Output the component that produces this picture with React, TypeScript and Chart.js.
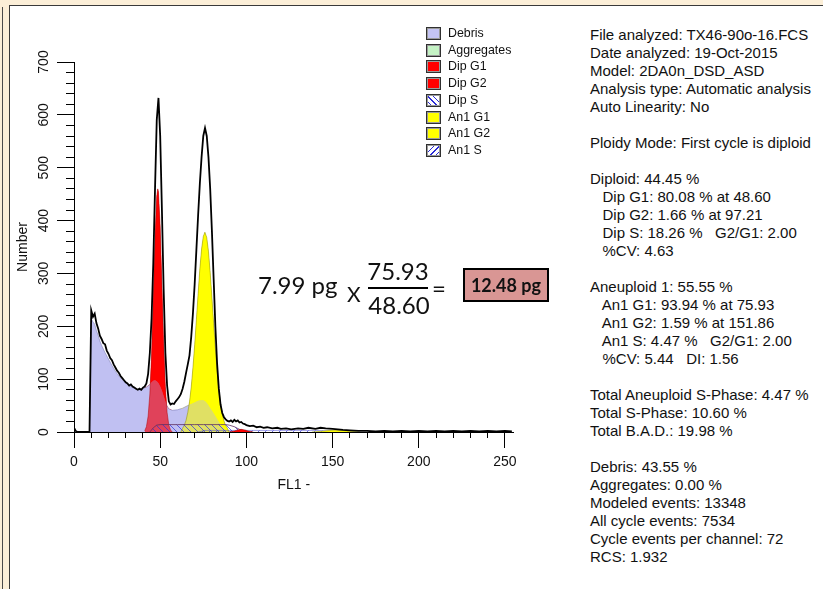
import React, { useEffect, useRef } from 'react';
import { Chart, registerables } from 'chart.js';
Chart.register(...registerables);

// ---------- data (channel / count) ----------
const rawChannels = [0, 1, 2, 9, 10, 11, 12, 13, 14, 15, 16, 17, 18, 19, 20, 21, 22, 23, 24, 25, 26, 27, 28, 29, 30, 31, 32, 33, 34, 35, 36, 37, 38, 39, 40, 41, 42, 43, 44, 45, 46, 47, 48, 49, 50, 51, 52, 53, 54, 55, 56, 57, 58, 59, 60, 61, 62, 63, 64, 65, 66, 67, 68, 69, 70, 71, 72, 73, 74, 75, 76, 77, 78, 79, 80, 81, 82, 83, 84, 85, 86, 87, 88, 89, 90, 91, 92, 93, 94, 95, 96, 97, 98, 99, 100, 102, 104, 106, 108, 110, 112, 115, 118, 120, 123, 126, 130, 133, 136, 140, 143, 146, 150, 153, 156, 160, 165, 170, 175, 180, 185, 190, 195, 200, 205, 210, 215, 220, 225, 230, 235, 240, 245, 250, 254];
const rawCounts = [8, 2, 0, 0, 230, 218, 224, 206, 196, 182, 176, 168, 166, 154, 148, 140, 136, 128, 122, 116, 112, 106, 102, 98, 94, 92, 88, 90, 86, 84, 82, 80, 82, 80, 84, 86, 92, 110, 150, 215, 320, 460, 590, 632, 560, 420, 270, 150, 88, 58, 52, 54, 53, 58, 62, 66, 72, 82, 95, 112, 128, 145, 180, 225, 280, 345, 410, 470, 520, 560, 575, 560, 520, 460, 380, 290, 200, 130, 82, 52, 36, 28, 24, 21, 20, 22, 19, 23, 20, 22, 18, 19, 16, 15, 13, 11, 12, 9, 10, 8, 9, 7, 8, 6, 7, 5, 7, 6, 8, 6, 8, 7, 6, 5, 4, 3, 2, 2, 1, 2, 1, 2, 1, 2, 1, 2, 1, 2, 1, 2, 1, 2, 1, 2, 1];

const debrisChannels = [9, 10, 11, 12, 13, 14, 15, 16, 18, 20, 22, 24, 26, 28, 30, 32, 34, 36, 38, 40, 42, 44, 45, 46, 47, 48, 49, 50, 51, 52, 53, 54, 55, 57, 60, 63, 66, 68, 70, 72, 74, 75, 76, 77, 78, 79, 80, 81, 82, 84, 86, 88, 90];
const debrisCounts = [0, 215, 208, 204, 192, 183, 172, 164, 150, 138, 126, 115, 106, 99, 93, 88, 84, 81, 80, 82, 85, 90, 94, 97, 98, 96, 92, 86, 78, 68, 58, 49, 44, 41, 42, 45, 50, 53, 56, 59, 60, 60, 58, 55, 50, 45, 40, 35, 30, 19, 9, 3, 0];

const dipG1Channels = [41, 42, 43, 44, 45, 46, 47, 48, 48.6, 49, 50, 51, 52, 53, 54, 55, 56, 57];
const dipG1Counts = [2, 10, 30, 72, 148, 255, 368, 446, 460, 454, 388, 278, 168, 86, 37, 13, 4, 0];

const an1G1Channels = [62, 63, 64, 65, 66, 67, 68, 69, 70, 71, 72, 73, 74, 75, 75.93, 77, 78, 79, 80, 81, 82, 83, 84, 85, 86, 87, 88, 89, 90];
const an1G1Counts = [0, 7, 13, 22, 37, 57, 85, 122, 165, 213, 262, 309, 346, 370, 378, 368, 342, 302, 255, 206, 158, 116, 81, 54, 34, 21, 12, 7, 0];

const dipSChannels = [44, 46, 48, 50, 55, 60, 65, 70, 75, 80, 85, 88, 90, 93, 96, 99, 102];
const dipSCounts = [0, 8, 13, 14, 14, 14, 14, 14, 14, 14, 14, 14, 13, 10, 5, 2, 0];

const an1SChannels = [72, 76, 80, 100, 120, 140, 148, 152, 156];
const an1SCounts = [0, 3, 3, 3, 3, 3, 2, 1, 0];

const dipG2Channels = [90, 93, 95, 97, 99, 101, 104];
const dipG2Counts = [0, 2, 4, 5, 4, 2, 0];

const an1G2Channels = [138, 144, 148, 152, 156, 160, 166];
const an1G2Counts = [0, 1.5, 2.8, 3.3, 2.8, 1.5, 0];

const g1Means = [48.6, 75.93];

const xMin = 0;
const xMax = 255;
const yMin = 0;
const yMax = 700;

const legendItems = [
  { label: 'Debris', kind: 'solid', color: '#c4c4f4' },
  { label: 'Aggregates', kind: 'solid', color: '#c4f2c4' },
  { label: 'Dip G1', kind: 'solid', color: '#ff0000' },
  { label: 'Dip G2', kind: 'solid', color: '#ff0000' },
  { label: 'Dip S', kind: 'back', color: '#ffffff' },
  { label: 'An1 G1', kind: 'solid', color: '#ffff00' },
  { label: 'An1 G2', kind: 'solid', color: '#ffff00' },
  { label: 'An1 S', kind: 'fwd', color: '#ffffff' },
];

const infoLines = [
  'File analyzed: TX46-90o-16.FCS',
  'Date analyzed: 19-Oct-2015',
  'Model: 2DA0n_DSD_ASD',
  'Analysis type: Automatic analysis',
  'Auto Linearity: No',
  '',
  'Ploidy Mode: First cycle is diploid',
  '',
  'Diploid: 44.45 %',
  '   Dip G1: 80.08 % at 48.60',
  '   Dip G2: 1.66 % at 97.21',
  '   Dip S: 18.26 %   G2/G1: 2.00',
  '   %CV: 4.63',
  '',
  'Aneuploid 1: 55.55 %',
  '   An1 G1: 93.94 % at 75.93',
  '   An1 G2: 1.59 % at 151.86',
  '   An1 S: 4.47 %   G2/G1: 2.00',
  '   %CV: 5.44   DI: 1.56',
  '',
  'Total Aneuploid S-Phase: 4.47 %',
  'Total S-Phase: 10.60 %',
  'Total B.A.D.: 19.98 %',
  '',
  'Debris: 43.55 %',
  'Aggregates: 0.00 %',
  'Modeled events: 13348',
  'All cycle events: 7534',
  'Cycle events per channel: 72',
  'RCS: 1.932',
];

const formulaFactor = '7.99 pg';
const formulaNumerator = '75.93';
const formulaDenominator = '48.60';
const formulaResult = '12.48 pg';

const SANS = '"Liberation Sans", Arial, Helvetica, sans-serif';
const CAL = 'Lato, "Open Sans", sans-serif';

const LAVENDER = '#c0c0f2';
const CRIMSON = 'rgb(224,66,90)';
const OLIVE = 'rgb(224,224,100)';

function pts(xs: number[], ys: number[]) {
  return xs.map((x, i) => ({ x, y: ys[i] }));
}

function makeHatch(ctx: CanvasRenderingContext2D, forward: boolean) {
  const n = 7;
  const c = document.createElement('canvas');
  c.width = n;
  c.height = n;
  const g = c.getContext('2d')!;
  g.strokeStyle = 'rgba(50,50,220,0.8)';
  g.lineWidth = 0.9;
  g.beginPath();
  if (forward) {
    g.moveTo(-1, n + 1); g.lineTo(n + 1, -1);
    g.moveTo(-n - 1, 1); g.lineTo(1, -n - 1);
    g.moveTo(n - 1, 2 * n + 1); g.lineTo(2 * n + 1, n - 1);
  } else {
    g.moveTo(-1, -1); g.lineTo(n + 1, n + 1);
    g.moveTo(-n - 1, -1); g.lineTo(1, n + 1);
    g.moveTo(n - 1, -1); g.lineTo(2 * n + 1, n + 1);
  }
  g.stroke();
  return ctx.createPattern(c, 'repeat') as CanvasPattern;
}

function LegendBox({ kind, color }: { kind: string; color: string }) {
  const bg =
    kind === 'back'
      ? 'repeating-linear-gradient(45deg, #ffffff 0px, #ffffff 3px, #2c2cd8 3px, #2c2cd8 4px)'
      : kind === 'fwd'
      ? 'repeating-linear-gradient(-45deg, #ffffff 0px, #ffffff 3px, #2c2cd8 3px, #2c2cd8 4px)'
      : color;
  return (
    <div
      style={{
        width: 13,
        height: 11,
        border: '1px solid #303030',
        outline: '1px solid #9a9a9a',
        outlineOffset: -2,
        background: bg,
      }}
    />
  );
}

export default function App() {
  const ref = useRef<HTMLCanvasElement | null>(null);

  useEffect(() => {
    const canvas = ref.current!;
    const ctx = canvas.getContext('2d')!;
    Chart.defaults.font.family = SANS;
    const hatchBack = makeHatch(ctx, false);
    const hatchFwd = makeHatch(ctx, true);
    const DEBRIS_INDEX = 10;

    const line = (extra: any) => ({
      type: 'line',
      pointRadius: 0,
      pointHoverRadius: 0,
      tension: 0,
      borderWidth: 0,
      ...extra,
    });

    const chart = new Chart(ctx, {
      type: 'line',
      data: {
        datasets: [
          line({ label: 'data', data: pts(rawChannels, rawCounts), borderColor: '#000000', borderWidth: 1.8, fill: false, order: 1 }),
          {
            type: 'scatter',
            label: 'G1 means',
            data: g1Means.map((x) => ({ x, y: -14.7 })),
            pointStyle: 'triangle',
            pointRadius: 7,
            pointHoverRadius: 7,
            backgroundColor: '#000000',
            borderWidth: 0,
            clip: false,
            order: -1,
          },
          line({ label: 'Dip G2', data: pts(dipG2Channels, dipG2Counts), backgroundColor: '#ff0000', borderColor: '#900000', borderWidth: 0.5, fill: 'origin', order: 3 }),
          line({ label: 'An1 G2', data: pts(an1G2Channels, an1G2Counts), backgroundColor: '#ffff00', borderColor: '#909000', borderWidth: 0.5, fill: 'origin', order: 3 }),
          line({ label: 'Dip S', data: pts(dipSChannels, dipSCounts), backgroundColor: hatchBack, borderColor: '#603060', borderWidth: 0.8, fill: 'origin', order: 4 }),
          line({ label: 'An1 S', data: pts(an1SChannels, an1SCounts), backgroundColor: hatchFwd, borderColor: '#4040d0', borderWidth: 0.5, fill: 'origin', order: 4 }),
          line({ label: 'Dip G1', data: pts(dipG1Channels, dipG1Counts), fill: { target: DEBRIS_INDEX, above: '#ff0000', below: 'rgba(0,0,0,0)' }, borderColor: '#b00000', borderWidth: 0.5, order: 6 }),
          line({ label: 'Dip G1 overlap', data: pts(dipG1Channels, dipG1Counts), backgroundColor: CRIMSON, fill: 'origin', order: 7 }),
          line({ label: 'An1 G1', data: pts(an1G1Channels, an1G1Counts), fill: { target: DEBRIS_INDEX, above: '#ffff00', below: 'rgba(0,0,0,0)' }, borderColor: '#8a8a00', borderWidth: 0.5, order: 6 }),
          line({ label: 'An1 G1 overlap', data: pts(an1G1Channels, an1G1Counts), backgroundColor: OLIVE, fill: 'origin', order: 7 }),
          line({ label: 'Debris', data: pts(debrisChannels, debrisCounts), backgroundColor: LAVENDER, borderColor: '#8080b8', borderWidth: 0.6, fill: 'origin', order: 10 }),
        ] as any,
      },
      options: {
        animation: false,
        responsive: false,
        maintainAspectRatio: false,
        events: [],
        layout: { padding: { top: 55, bottom: 9.4, left: 0, right: 37.4 } },
        plugins: { legend: { display: false }, tooltip: { enabled: false } },
        scales: {
          x: {
            type: 'linear',
            min: xMin,
            max: xMax,
            position: 'bottom',
            weight: 0,
            ticks: { display: false, stepSize: 10, includeBounds: false, autoSkip: false },
            grid: { drawOnChartArea: false, drawTicks: true, tickLength: 6, tickColor: '#000', tickWidth: 1 },
            border: { display: true, color: '#000', width: 1 },
          },
          x2: {
            type: 'linear',
            axis: 'x',
            min: xMin,
            max: xMax,
            position: 'bottom',
            weight: 1,
            ticks: { stepSize: 50, includeBounds: false, autoSkip: false, padding: 6, color: '#111', font: { size: 14 }, maxRotation: 0 },
            grid: { drawOnChartArea: false, drawTicks: true, tickLength: 10, tickColor: '#000', tickWidth: 1 },
            border: { display: false },
            title: { display: true, text: 'FL1 -', color: '#111', font: { size: 14 }, padding: { top: 0, bottom: 4 } },
          },
          y: {
            type: 'linear',
            min: yMin,
            max: yMax,
            position: 'left',
            weight: 0,
            ticks: { display: false, stepSize: 20, autoSkip: false },
            grid: { drawOnChartArea: false, drawTicks: true, tickLength: 8, tickColor: '#000', tickWidth: 1 },
            border: { display: true, color: '#000', width: 1 },
          },
          y2: {
            type: 'linear',
            axis: 'y',
            min: yMin,
            max: yMax,
            position: 'left',
            weight: 1,
            ticks: { stepSize: 100, autoSkip: false, minRotation: 90, maxRotation: 90, crossAlign: 'center', padding: 1, color: '#111', font: { size: 14 } },
            grid: { drawOnChartArea: false, drawTicks: true, tickLength: 9, tickColor: '#000', tickWidth: 1 },
            border: { display: false },
            title: { display: true, text: 'Number', color: '#111', font: { size: 14 }, padding: { top: 3.6, bottom: 6.8 } },
          },
        } as any,
      },
    });
    return () => chart.destroy();
  }, []);

  return (
    <div
      style={{
        position: 'absolute',
        left: 0,
        top: 0,
        width: 823,
        height: 589,
        overflow: 'hidden',
        background: '#fcefd8',
        fontFamily: SANS,
        color: '#111',
      }}
    >
      <div style={{ position: 'absolute', left: 2, top: 7, width: 1, height: 582, background: '#4a4a4a' }} />
      <div
        style={{
          position: 'absolute',
          left: 9,
          top: 5,
          right: 0,
          bottom: 0,
          background: '#ffffff',
          borderLeft: '1px solid #3a3a3a',
          borderTop: '1px solid #3a3a3a',
        }}
      />
      <canvas ref={ref} width={540} height={500} style={{ position: 'absolute', left: 11, top: 7, width: 540, height: 500 }} />

      {/* legend */}
      {legendItems.map((it, i) => (
        <div
          key={it.label}
          style={{ position: 'absolute', left: 426, top: 27 + i * 16.7, height: 13, display: 'flex', alignItems: 'center' }}
        >
          <LegendBox kind={it.kind} color={it.color} />
          <span style={{ marginLeft: 7, fontSize: 12.4, lineHeight: '13px', whiteSpace: 'nowrap' }}>{it.label}</span>
        </div>
      ))}

      {/* formula */}
      <div style={{ position: 'absolute', left: 258, top: 270, fontFamily: CAL, fontSize: 24, lineHeight: '30px', whiteSpace: 'nowrap' }}>
        {formulaFactor}
      </div>
      <div style={{ position: 'absolute', left: 347, top: 281, fontFamily: CAL, fontSize: 21, lineHeight: '26px' }}>X</div>
      <div style={{ position: 'absolute', left: 366, top: 256, width: 64, textAlign: 'center', fontFamily: CAL, fontSize: 24, lineHeight: '30px' }}>
        {formulaNumerator}
      </div>
      <div style={{ position: 'absolute', left: 368, top: 287, width: 60, height: 2, background: '#000' }} />
      <div style={{ position: 'absolute', left: 367, top: 290, width: 64, textAlign: 'center', fontFamily: CAL, fontSize: 24, lineHeight: '30px' }}>
        {formulaDenominator}
      </div>
      <div style={{ position: 'absolute', left: 432, top: 273, fontFamily: CAL, fontSize: 24, lineHeight: '30px' }}>=</div>
      <div
        style={{
          position: 'absolute',
          left: 463,
          top: 268,
          width: 82,
          height: 30,
          border: '2px solid #000',
          background: '#d99694',
          display: 'flex',
          alignItems: 'center',
          justifyContent: 'center',
          fontFamily: CAL,
          fontWeight: 700,
          fontSize: 18,
          color: '#111',
        }}
      >
        {formulaResult}
      </div>

      {/* info panel */}
      <div style={{ position: 'absolute', left: 590, top: 26, fontSize: 15, lineHeight: '18px' }}>
        {infoLines.map((t, i) => (
          <div key={i} style={{ height: 18, whiteSpace: 'pre' }}>
            {t}
          </div>
        ))}
      </div>
    </div>
  );
}
